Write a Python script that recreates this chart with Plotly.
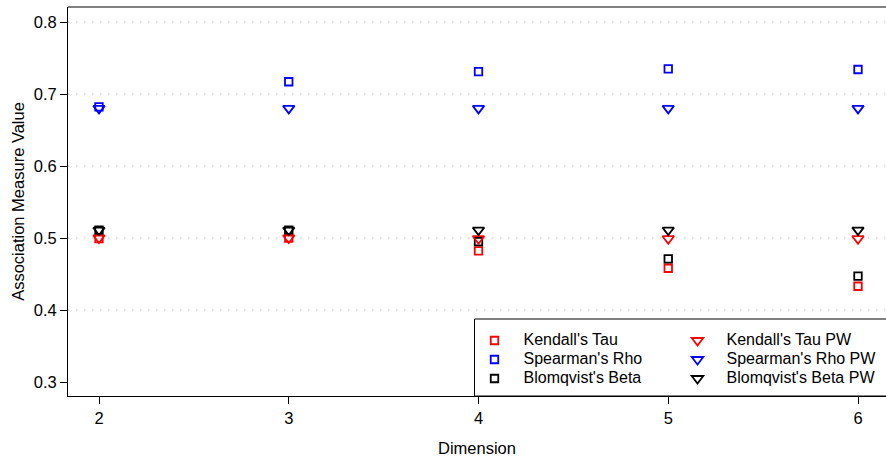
import plotly.graph_objects as go

dimensions = [2, 3, 4, 5, 6]
kendall_tau = [0.499, 0.500, 0.482, 0.458, 0.433]
spearman_rho = [0.682, 0.717, 0.731, 0.735, 0.734]
blomqvist_beta = [0.511, 0.511, 0.495, 0.471, 0.447]
kendall_tau_pw = [0.500, 0.500, 0.499, 0.499, 0.499]
spearman_rho_pw = [0.680, 0.680, 0.680, 0.680, 0.680]
blomqvist_beta_pw = [0.511, 0.511, 0.511, 0.511, 0.511]

y_ticks = [0.3, 0.4, 0.5, 0.6, 0.7, 0.8]
grid_vals = [0.4, 0.5, 0.6, 0.7, 0.8]

FONT = "Liberation Sans, Arial, Helvetica, sans-serif"

W, H = 886, 457
ML, MR, MT, MB = 68, 0, 7, 61
PW = W - ML - MR
PH = H - MT - MB

fig = go.Figure()

sq = dict(symbol="square-open", size=7.5, line=dict(width=1.8))
tri = dict(symbol="triangle-down-open", size=10, line=dict(width=1.8))

series = [
    ("Kendall's Tau", kendall_tau, "#FF0000", sq, "legend"),
    ("Spearman's Rho", spearman_rho, "#0000FF", sq, "legend"),
    ("Blomqvist's Beta", blomqvist_beta, "#000000", sq, "legend"),
    ("Kendall's Tau PW", kendall_tau_pw, "#FF0000", tri, "legend2"),
    ("Spearman's Rho PW", spearman_rho_pw, "#0000FF", tri, "legend2"),
    ("Blomqvist's Beta PW", blomqvist_beta_pw, "#000000", tri, "legend2"),
]
for name, vals, col, m, lg in series:
    mk = dict(m)
    mk["color"] = col
    mk["line"] = dict(m["line"], color=col)
    fig.add_trace(go.Scatter(x=dimensions, y=vals, mode="markers",
                             name="<span style='font-size:16px'>" + name + "</span>",
                             marker=mk, legend=lg, cliponaxis=False))

shapes = []
for g in grid_vals:
    shapes.append(dict(type="line", xref="paper", yref="y", x0=0, x1=1, y0=g, y1=g,
                       line=dict(color="#c4c4c4", width=1.2, dash="1.5px,6.5px"), layer="below"))
# top border (gray)
shapes.append(dict(type="line", xref="paper", yref="paper", x0=0, x1=1, y0=1, y1=1,
                   line=dict(color="#808080", width=2)))
# legend box
lx0 = (474.5 - ML) / PW
ly1 = (396 - 319) / PH
shapes.append(dict(type="rect", xref="paper", yref="paper", x0=lx0, x1=1.02, y0=0, y1=ly1,
                   line=dict(color="#000000", width=1), layer="above"))

x_range = [2 - 31 / 189.75, 2 - 31 / 189.75 + PW / 189.75]
y_range = [0.3 - 14 / 720, 0.3 - 14 / 720 + PH / 720]

leg_common = dict(xanchor="left", yanchor="top", bgcolor="rgba(0,0,0,0)",
                  borderwidth=0, tracegroupgap=0, itemwidth=48,
                  font=dict(size=12.3, family=FONT))

fig.update_layout(
    width=W, height=H,
    margin=dict(l=ML, r=MR, t=MT, b=MB, pad=0),
    plot_bgcolor="white", paper_bgcolor="white",
    font=dict(family=FONT, size=16.5, color="#000000"),
    shapes=shapes,
    xaxis=dict(range=x_range, tickvals=dimensions, ticks="outside", ticklen=7,
               tickcolor="#000", showgrid=False, zeroline=False, showline=True,
               linecolor="#000", linewidth=1,
               title=dict(text="Dimension", standoff=17, font=dict(size=16.5))),
    yaxis=dict(range=y_range, tickvals=y_ticks, tickformat=".1f", ticks="outside",
               ticklen=7, tickcolor="#000", showgrid=False, zeroline=False,
               showline=True, linecolor="#000", linewidth=1,
               title=dict(text="Association Measure Value", standoff=4, font=dict(size=16.5))),
    legend=dict(x=(465.5 - ML) / PW, y=(396 - 326) / PH, **leg_common),
    legend2=dict(x=(668.5 - ML) / PW, y=(396 - 326) / PH, **leg_common),
)

fig.write_html("out.html", config={"displayModeBar": False},
               post_script="document.body.style.margin='0';")
